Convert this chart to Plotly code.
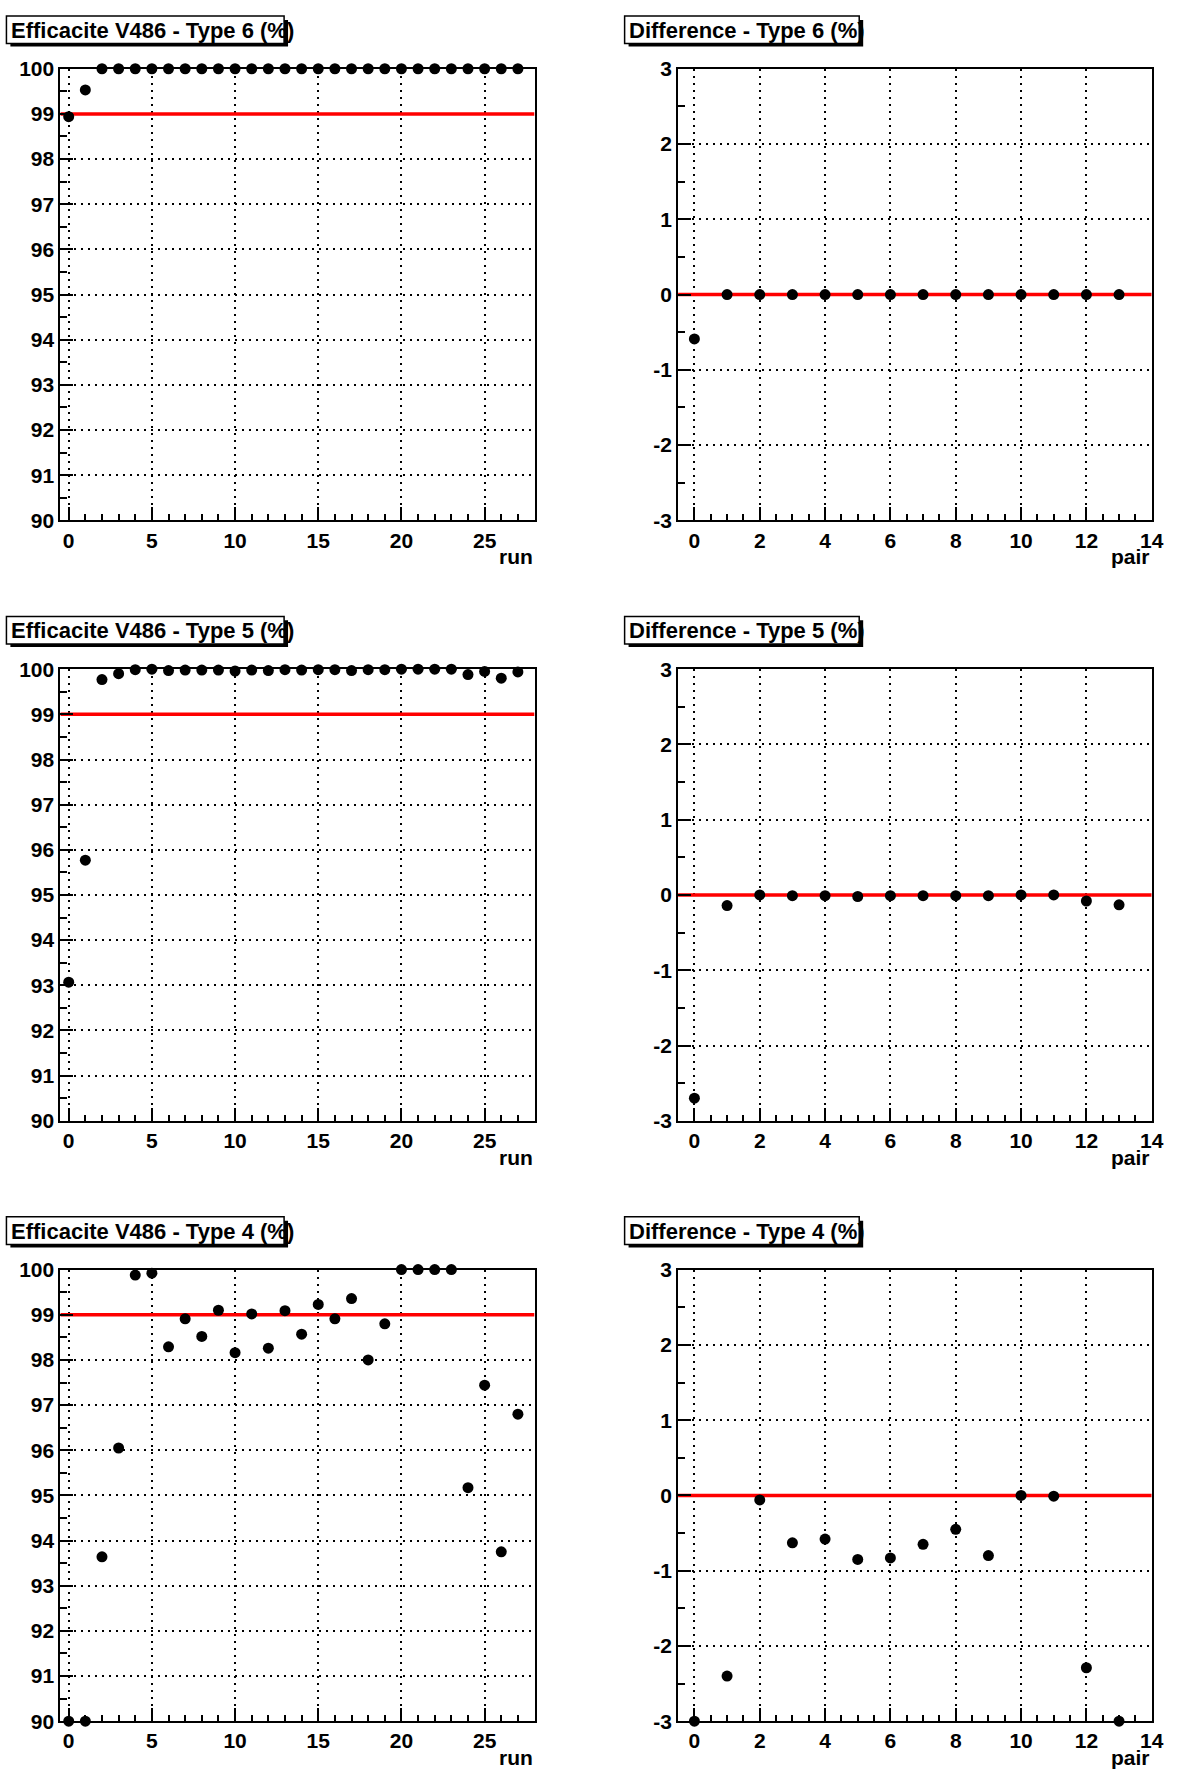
import plotly.graph_objects as go

# ---------------- data ----------------
runs = [0, 1, 2, 3, 4, 5, 6, 7, 8, 9, 10, 11, 12, 13, 14, 15, 16, 17, 18, 19,
        20, 21, 22, 23, 24, 25, 26, 27]
pairs = [0, 1, 2, 3, 4, 5, 6, 7, 8, 9, 10, 11, 12, 13]

eff_type6 = [98.94, 99.53, 100.0, 100.0, 100.0, 100.0, 100.0, 100.0, 100.0, 100.0,
             100.0, 100.0, 100.0, 100.0, 100.0, 100.0, 100.0, 100.0, 100.0, 100.0,
             100.0, 100.0, 100.0, 100.0, 100.0, 100.0, 100.0, 100.0]
diff_type6 = [-0.59, 0.0, 0.0, 0.0, 0.0, 0.0, 0.0, 0.0, 0.0, 0.0, 0.0, 0.0, 0.0, 0.0]

eff_type5 = [93.07, 95.77, 99.77, 99.90, 99.99, 100.00, 99.97, 99.98, 99.98, 99.98,
             99.96, 99.98, 99.97, 99.99, 99.98, 99.99, 99.99, 99.97, 99.99, 99.99,
             100.0, 100.0, 100.0, 100.0, 99.88, 99.95, 99.80, 99.94]
diff_type5 = [-2.70, -0.14, 0.00, -0.01, -0.01, -0.02, -0.01, -0.01, -0.01, -0.01,
              0.00, 0.00, -0.08, -0.13]

eff_type4 = [90.0, 90.0, 93.64, 96.05, 99.88, 99.92, 98.29, 98.91, 98.52, 99.10,
             98.16, 99.02, 98.26, 99.09, 98.57, 99.23, 98.91, 99.36, 98.00, 98.80,
             100.0, 100.0, 100.0, 100.0, 95.17, 97.44, 93.75, 96.80]
diff_type4 = [-3.00, -2.40, -0.06, -0.63, -0.58, -0.85, -0.83, -0.65, -0.45, -0.80,
              0.00, -0.01, -2.29, -3.00]

eff_titles = ["Efficacite V486 - Type 6 (%)", "Efficacite V486 - Type 5 (%)",
              "Efficacite V486 - Type 4 (%)"]
diff_titles = ["Difference - Type 6 (%)", "Difference - Type 5 (%)",
               "Difference - Type 4 (%)"]
eff_series = [eff_type6, eff_type5, eff_type4]
diff_series = [diff_type6, diff_type5, diff_type4]

eff_yticks = [90, 91, 92, 93, 94, 95, 96, 97, 98, 99, 100]
eff_ytext = ["90", "91", "92", "93", "94", "95", "96", "97", "98", "99", "100"]
diff_yticks = [-3, -2, -1, 0, 1, 2, 3]
diff_ytext = ["-3", "-2", "-1", "0", "1", "2", "3"]
run_ticks = [0, 5, 10, 15, 20, 25]
pair_ticks = [0, 2, 4, 6, 8, 10, 12, 14]

run_range = [-0.5, 28.0]
pair_range = [-0.5, 14.0]
eff_range = [90, 100]
diff_range = [-3, 3]

EFF_THRESHOLD = 99
DIFF_REFERENCE = 0

# ---------------- layout geometry (page pixels) ----------------
W, H = 1186, 1778
FONT = "Liberation Sans, Arial, Helvetica, sans-serif"
LEFT_X = (61, 540)
RIGHT_X = (685, 1163.5)
ROW_TOP0 = 57.5
ROW_STEP = 608.3
PLOT_H = 457.5


def px_x(v):
    return v / W


def px_y(v):
    return 1 - v / H


fig = go.Figure()
shapes = []
annotations = []

tickfont = dict(family=FONT, size=21, color="black", weight="bold")


def axis_common():
    return dict(showline=True, mirror=True, linecolor="black", linewidth=2,
                ticks="inside", ticklen=13, tickwidth=2, tickcolor="black",
                showgrid=True, gridcolor="black", gridwidth=2, griddash="2px,5px",
                zeroline=False, tickfont=tickfont, fixedrange=True)


n = 0
for row in range(3):
    top = ROW_TOP0 + ROW_STEP * row
    bot = top + PLOT_H
    ydom = [px_y(bot), px_y(top)]
    for col in range(2):
        n += 1
        xa = "x" if n == 1 else f"x{n}"
        ya = "y" if n == 1 else f"y{n}"
        xkey = "xaxis" if n == 1 else f"xaxis{n}"
        ykey = "yaxis" if n == 1 else f"yaxis{n}"
        if col == 0:
            xdom = [px_x(LEFT_X[0]), px_x(LEFT_X[1])]
            xs, ys = runs, eff_series[row]
            xr, yr = run_range, eff_range
            xtv, xmin_dt = run_ticks, 1
            ytv, ytt = eff_yticks, eff_ytext
            ref = EFF_THRESHOLD
            xtitle = "run"
            title = eff_titles[row]
            box = (6.5, 287)
        else:
            xdom = [px_x(RIGHT_X[0]), px_x(RIGHT_X[1])]
            xs, ys = pairs, diff_series[row]
            xr, yr = pair_range, diff_range
            xtv, xmin_dt = pair_ticks, 0.5
            ytv, ytt = diff_yticks, diff_ytext
            ref = DIFF_REFERENCE
            xtitle = "pair"
            title = diff_titles[row]
            box = (631, 868)

        xcfg = axis_common()
        xcfg.update(domain=xdom, range=xr, anchor=ya, tickmode="array", tickvals=xtv,
                    minor=dict(ticks="inside", ticklen=6, tickwidth=2, tickcolor="black",
                               tick0=0, dtick=xmin_dt, showgrid=False))
        ycfg = axis_common()
        ycfg.update(domain=ydom, range=yr, anchor=xa, tickmode="array", tickvals=ytv,
                    ticktext=ytt,
                    minor=dict(ticks="inside", ticklen=7, tickwidth=2, tickcolor="black",
                               tick0=0, dtick=0.5, showgrid=False))
        fig.update_layout({xkey: xcfg, ykey: ycfg})

        # red reference line across the full axis range (drawn under the markers)
        fig.add_trace(go.Scatter(x=xr, y=[ref, ref], xaxis=xa, yaxis=ya, mode="lines",
                                 line=dict(color="#ff0000", width=3.5),
                                 showlegend=False, hoverinfo="skip"))
        fig.add_trace(go.Scatter(x=xs, y=ys, xaxis=xa, yaxis=ya, mode="markers",
                                 marker=dict(color="black", size=11, symbol="circle"),
                                 cliponaxis=False, showlegend=False, hoverinfo="x+y"))

        annotations.append(dict(text=xtitle, xref=f"{xa} domain", yref=f"{ya} domain",
                                x=1, y=0, xanchor="right", yanchor="top", yshift=-23,
                                showarrow=False,
                                font=dict(family=FONT, size=21, color="black", weight="bold")))

        # title box with shadow
        bt = 4 + ROW_STEP * row
        bb = 32 + ROW_STEP * row
        shapes.append(dict(type="rect", xref="paper", yref="paper",
                           x0=px_x(box[0] + 4), x1=px_x(box[1] + 4),
                           y0=px_y(bb + 3), y1=px_y(bt + 4),
                           fillcolor="black", line=dict(width=0), layer="above"))
        shapes.append(dict(type="rect", xref="paper", yref="paper",
                           x0=px_x(box[0]), x1=px_x(box[1]),
                           y0=px_y(bb), y1=px_y(bt),
                           fillcolor="white", line=dict(color="black", width=1.5),
                           layer="above"))
        annotations.append(dict(text=title, xref="paper", yref="paper",
                                x=px_x(box[0] + 4.5), y=px_y((bt + bb) / 2 + 0.5),
                                xanchor="left", yanchor="middle", showarrow=False,
                                borderpad=0, borderwidth=0,
                                font=dict(family=FONT, size=22, color="black", weight="bold")))

fig.update_layout(width=W, height=H, margin=dict(l=0, r=0, t=0, b=0),
                  paper_bgcolor="white", plot_bgcolor="white",
                  shapes=shapes, annotations=annotations, showlegend=False)

page_style = ("var s=document.createElement('style');"
              "s.textContent='html,body{margin:0;padding:0;overflow:hidden;}';"
              "document.head.appendChild(s);")

fig.write_html("out.html",
               config={"staticPlot": True, "displayModeBar": False, "responsive": False},
               post_script=page_style)
